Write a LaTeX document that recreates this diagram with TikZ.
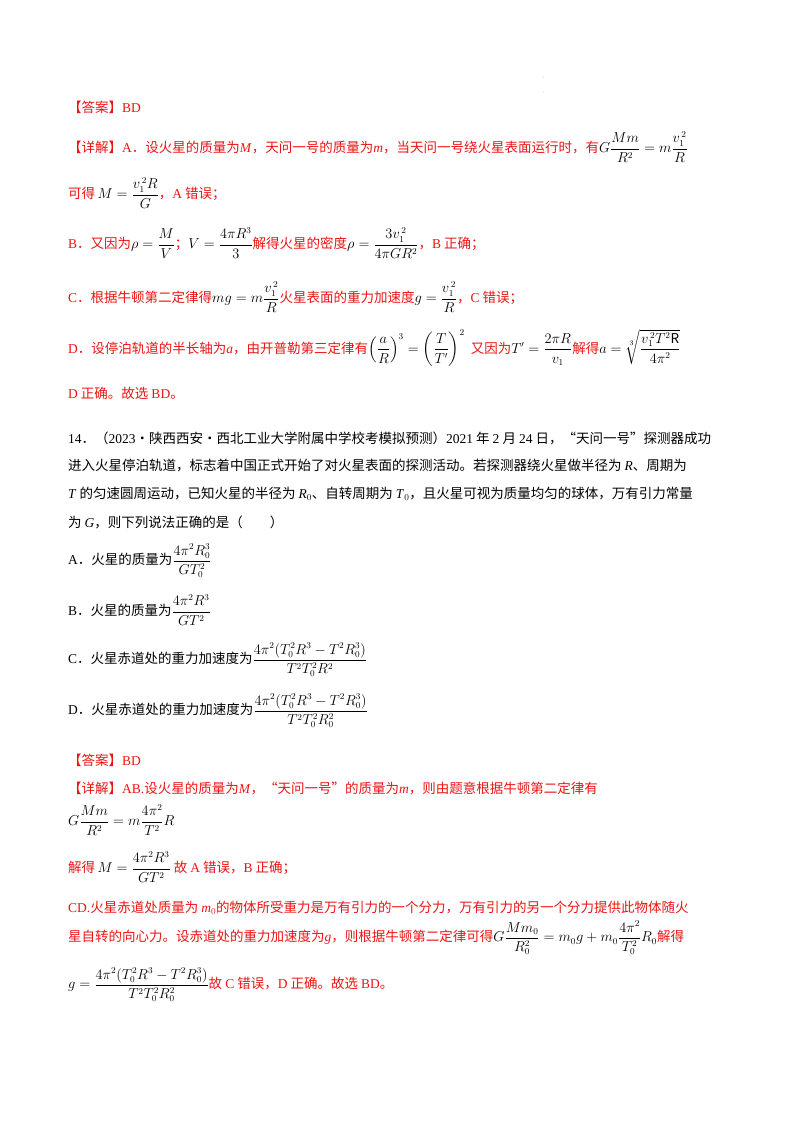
\documentclass[tikz,border=0pt]{standalone}
\usepackage{amsmath}
\usepackage{fontspec}
\setmainfont{Noto Sans CJK SC}
\newfontfamily\lat{Liberation Serif}
\newcommand{\tl}[1]{{\lat #1}}
\definecolor{ansred}{RGB}{235,20,20}
\begin{document}
\begin{tikzpicture}[x=1pt,y=-1pt,
  ln/.style={anchor=west,inner sep=0pt,font=\fontsize{13.5}{16}\selectfont},
  rd/.style={ln,text=ansred},
  bk/.style={ln,text=black}]
\useasboundingbox (0,0) rectangle (800,1132);
\fill[gray!60] (543,77) circle (0.5) (543,92) circle (0.5);
\node[rd] (l1) at (68,107) {【答案】\tl{BD}};
\node[rd] (l2) at (68,147) {【详解】\tl{A}．设火星的质量为\tl{\textit{M}}，天问一号的质量为\tl{\textit{m}}，当天问一号绕火星表面运行时，有\textcolor{black}{$G\dfrac{Mm}{R^2}=m\dfrac{v_1^{\,2}}{R}$}};
\node[rd] (l3) at (68,193) {可得\textcolor{black}{$\,M=\dfrac{v_1^{\,2}R}{G}$}，\tl{A} 错误；};
\node[rd] (l4) at (68,243) {\tl{B}．又因为\textcolor{black}{$\rho=\dfrac{M}{V}$}；\textcolor{black}{$V=\dfrac{4\pi R^3}{3}$}解得火星的密度\textcolor{black}{$\rho=\dfrac{3v_1^{\,2}}{4\pi GR^2}$}，\tl{B} 正确；};
\node[rd] (l5) at (68,297) {\tl{C}．根据牛顿第二定律得\textcolor{black}{$mg=m\dfrac{v_1^{\,2}}{R}$}火星表面的重力加速度\textcolor{black}{$g=\dfrac{v_1^{\,2}}{R}$}，\tl{C} 错误；};
\node[rd] (l6) at (68,348) {\tl{D}．设停泊轨道的半长轴为\tl{\textit{a}}，由开普勒第三定律有\textcolor{black}{$\left(\dfrac{a}{R}\right)^3=\left(\dfrac{T}{T'}\right)^2$}\ \ 又因为\textcolor{black}{$T'=\dfrac{2\pi R}{v_1}$}解得\textcolor{black}{$a=\sqrt[3]{\dfrac{v_1^{\,2}T^2\mathrm{R}}{4\pi^2}}$}};
\node[rd] (l7) at (68,393) {\tl{D} 正确。故选 \tl{BD}。};
\node[bk] (p1) at (68,438) {\tl{14}．（\tl{2023}·陕西西安·西北工业大学附属中学校考模拟预测）\tl{2021} 年 \tl{2} 月 \tl{24} 日，“天问一号”探测器成功};
\node[bk] (p2) at (68,466) {进入火星停泊轨道，标志着中国正式开始了对火星表面的探测活动。若探测器绕火星做半径为 \tl{\textit{R}}、周期为};
\node[bk] (p3) at (68,494) {\tl{\textit{T}} 的匀速圆周运动，已知火星的半径为 \tl{\textit{R}$_0$}、自转周期为 \tl{\textit{T}$_0$}，且火星可视为质量均匀的球体，万有引力常量};
\node[bk] (p4) at (68,522) {为 \tl{\textit{G}}，则下列说法正确的是（\qquad）};
\node[bk] (oa) at (68,561) {\tl{A}．火星的质量为$\dfrac{4\pi^2R_0^3}{GT_0^2}$};
\node[bk] (ob) at (68,610) {\tl{B}．火星的质量为$\dfrac{4\pi^2R^3}{GT^2}$};
\node[bk] (oc) at (68,660) {\tl{C}．火星赤道处的重力加速度为$\dfrac{4\pi^2(T_0^2R^3-T^2R_0^3)}{T^2T_0^2R^2}$};
\node[bk] (od) at (68,711) {\tl{D}．火星赤道处的重力加速度为$\dfrac{4\pi^2(T_0^2R^3-T^2R_0^3)}{T^2T_0^2R_0^2}$};
\node[rd] (m1) at (68,760) {【答案】\tl{BD}};
\node[rd] (m2) at (68,788) {【详解】\tl{AB.}设火星的质量为\tl{\textit{M}}，“天问一号”的质量为\tl{\textit{m}}，则由题意根据牛顿第二定律有};
\node[bk] (m3) at (68,820) {$G\dfrac{Mm}{R^2}=m\dfrac{4\pi^2}{T^2}R$};
\node[rd] (m4) at (68,867) {解得\textcolor{black}{$\,M=\dfrac{4\pi^2R^3}{GT^2}$}\ 故 \tl{A} 错误，\tl{B} 正确；};
\node[rd] (m5) at (68,908) {\tl{CD.}火星赤道处质量为 \tl{\textit{m}$_0$}的物体所受重力是万有引力的一个分力，万有引力的另一个分力提供此物体随火};
\node[rd] (m6) at (68,938) {星自转的向心力。设赤道处的重力加速度为\tl{\textit{g}}，则根据牛顿第二定律可得\textcolor{black}{$G\dfrac{Mm_0}{R_0^2}=m_0g+m_0\dfrac{4\pi^2}{T_0^2}R_0$}解得};
\node[rd] (m7) at (68,985) {\textcolor{black}{$g=\dfrac{4\pi^2(T_0^2R^3-T^2R_0^3)}{T^2T_0^2R_0^2}$}故 \tl{C} 错误，\tl{D} 正确。故选 \tl{BD}。};
\end{tikzpicture}
\end{document}
